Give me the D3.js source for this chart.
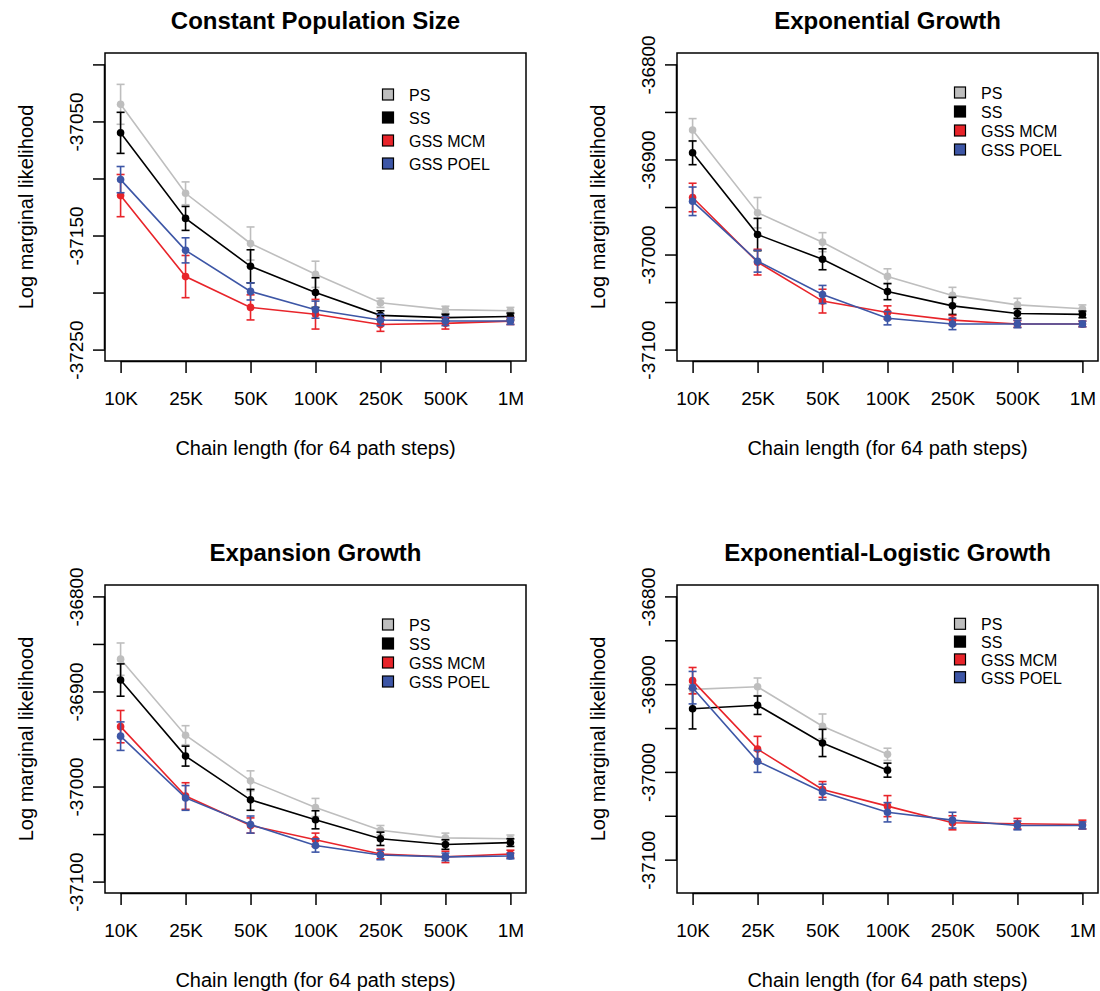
<!DOCTYPE html>
<html><head><meta charset="utf-8">
<script src="https://cdn.jsdelivr.net/npm/d3@7"></script>
<style>
html,body{margin:0;padding:0;background:#fff;}
svg{display:block;font-family:"Liberation Sans",Arial,Helvetica,sans-serif;}
</style></head>
<body><svg id="chart" width="1100" height="991"></svg>
<script>
// ---------- data ----------
const categories = ["10K","25K","50K","100K","250K","500K","1M"];
const seriesNames = ["PS","SS","GSS MCM","GSS POEL"];
const seriesColors = ["#bebebe","#000000","#e8242a","#3d56a6"];
const panelTitles = ["Constant Population Size","Exponential Growth","Expansion Growth","Exponential-Logistic Growth"];
const xAxisTitle = "Chain length (for 64 path steps)";
const yAxisTitle = "Log marginal likelihood";

// Constant population size
const constPS   = [-37035,-37113,-37157,-37184,-37209,-37215,-37216];
const constPSe  = [17.5,10,14.5,11.5,4,3,3];
const constSS   = [-37060,-37135,-37177,-37200,-37220,-37222,-37221];
const constSSe  = [18,10.5,14.5,13,4,3,3];
const constMCM  = [-37115,-37186,-37213,-37219,-37228,-37227,-37225];
const constMCMe = [18.5,18.5,11,13,6,5,3];
const constPOEL = [-37101,-37163,-37199,-37215,-37224,-37225,-37225];
const constPOELe= [11.5,11,7.5,7.5,5,4,3];

// Exponential growth
const expPS   = [-36869,-36956,-36987,-37023,-37043,-37053,-37057];
const expPSe  = [12,16,10,8,8.5,7,4];
const expSS   = [-36893,-36979,-37005,-37039,-37054,-37062,-37063];
const expSSe  = [12.5,17,11,8.5,9,5,3.5];
const expMCM  = [-36940,-37008,-37049,-37061,-37069,-37073,-37073];
const expMCMe = [15,13.5,12.5,7,5,3.5,3];
const expPOEL = [-36944,-37007,-37042,-37067,-37073,-37073,-37073];
const expPOELe= [15,11.5,9.5,7,6,4,3];

// Expansion growth
const expanPS   = [-36866,-36946,-36994,-37022,-37046,-37054,-37055];
const expanPSe  = [17,10,10.5,9.5,5,5,4];
const expanSS   = [-36888,-36968,-37014,-37035,-37055,-37061,-37059];
const expanSSe  = [17,10.5,11,9.5,7,5,4];
const expanMCM  = [-36937,-37010,-37041,-37056,-37071,-37074,-37071];
const expanMCMe = [17,14,8,7,5,6,4];
const expanPOEL = [-36947,-37012,-37040,-37062,-37072,-37074,-37073];
const expanPOELe= [15,13,9,7,5,4,3];

// Exponential-logistic growth (PS and SS only up to 100K)
const logPS   = [-36906,-36903,-36948,-36980,null,null,null];
const logPSe  = [5,10,14,7,null,null,null];
const logSS   = [-36928,-36924,-36967,-36998,null,null,null];
const logSSe  = [23,10.5,15.5,8,null,null,null];
const logMCM  = [-36896,-36974,-37020,-37039,-37058,-37059,-37060];
const logMCMe = [15,14.5,9,12,8,6,5];
const logPOEL = [-36904,-36988,-37023,-37046,-37055,-37061,-37061];
const logPOELe= [18.5,12.5,9,11,9,5,4];

// axis ranges and ticks
const ylimConst = [-37250,-37000];
const ylimExp   = [-37100,-36800];
const ylimExpan = [-37100,-36800];
const ylimLog   = [-37125,-36800];
const yTicksConst  = [-37250,-37200,-37150,-37100,-37050,-37000];
const yLabelsConst = [-37250,-37150,-37050];
const yTicksOther  = [-37100,-37050,-37000,-36950,-36900,-36850,-36800];
const yLabelsOther = [-37100,-37000,-36900,-36800];

const panels = [
  {title:panelTitles[0], ylim:ylimConst, ticks:yTicksConst, labels:yLabelsConst,
   means:[constPS,constSS,constMCM,constPOEL], errs:[constPSe,constSSe,constMCMe,constPOELe], legendGap:23, legendTop:42},
  {title:panelTitles[1], ylim:ylimExp, ticks:yTicksOther, labels:yLabelsOther,
   means:[expPS,expSS,expMCM,expPOEL], errs:[expPSe,expSSe,expMCMe,expPOELe], legendGap:19, legendTop:40},
  {title:panelTitles[2], ylim:ylimExpan, ticks:yTicksOther, labels:yLabelsOther,
   means:[expanPS,expanSS,expanMCM,expanPOEL], errs:[expanPSe,expanSSe,expanMCMe,expanPOELe], legendGap:19, legendTop:40},
  {title:panelTitles[3], ylim:ylimLog, ticks:yTicksOther, labels:yLabelsOther,
   means:[logPS,logSS,logMCM,logPOEL], errs:[logPSe,logSSe,logMCMe,logPOELe], legendGap:17.8, legendTop:39.3}
];

// ---------- layout ----------
const boxW = 421, boxH = 308;
const origins = [[105,53],[677,53],[105,585],[677,585]];
const svg = d3.select("#chart");

panels.forEach((p, pi) => {
  const [ox, oy] = origins[pi];
  const g = svg.append("g").attr("transform", `translate(${ox},${oy})`);
  const ext = (p.ylim[1]-p.ylim[0])*0.04;
  const y = d3.scaleLinear().domain([p.ylim[0]-ext, p.ylim[1]+ext]).range([boxH, 0]);
  const x = d3.scaleLinear().domain([1-0.24, categories.length+0.24]).range([0, boxW]);

  // box
  g.append("rect").attr("x",0).attr("y",0).attr("width",boxW).attr("height",boxH)
    .attr("fill","none").attr("stroke","#000").attr("stroke-width",1.5);

  // y axis
  const yAxis = d3.axisLeft(y).tickValues(p.ticks).tickSize(12).tickPadding(10)
    .tickFormat(d => p.labels.includes(d) ? String(d) : "");
  const ya = g.append("g").call(yAxis);
  ya.select(".domain").attr("d", `M-0.5,${y(p.ticks[0])}V${y(p.ticks[p.ticks.length-1])}`).attr("stroke-width",1.5);
  ya.selectAll(".tick line").attr("stroke-width",1.5);
  ya.selectAll(".tick text")
    .attr("font-size",19).attr("fill","#000").attr("font-family","'Liberation Sans',Arial,sans-serif")
    .attr("x",null).attr("dy",null)
    .attr("transform","translate(-22,0) rotate(-90)")
    .attr("text-anchor","middle").attr("dominant-baseline","auto");

  // x axis
  const xAxis = d3.axisBottom(x).tickValues(d3.range(1, categories.length+1)).tickSize(12).tickPadding(14)
    .tickFormat(i => categories[i-1]);
  const xa = g.append("g").attr("transform",`translate(0,${boxH})`).call(xAxis);
  xa.select(".domain").attr("d", `M${x(1)},0.5H${x(categories.length)}`).attr("stroke-width",1.5);
  xa.selectAll(".tick line").attr("stroke-width",1.5);
  xa.selectAll(".tick text").attr("font-size",19).attr("fill","#000")
    .attr("font-family","'Liberation Sans',Arial,sans-serif")
    .attr("dy",null).attr("y",44);

  // titles
  g.append("text").attr("x",boxW/2).attr("y",-24).attr("text-anchor","middle")
    .attr("font-size",24).attr("font-weight","bold").text(p.title);
  g.append("text").attr("x",boxW/2).attr("y",boxH+94).attr("text-anchor","middle")
    .attr("font-size",20).text(xAxisTitle);
  g.append("text").attr("transform",`translate(-72,${boxH/2}) rotate(-90)`).attr("text-anchor","middle")
    .attr("font-size",20).text(yAxisTitle);

  // series
  p.means.forEach((m, si) => {
    const col = seriesColors[si];
    const pts = m.map((v,i) => ({i:i+1, v, e:p.errs[si][i]})).filter(d => d.v !== null);
    const line = d3.line().x(d => x(d.i)).y(d => y(d.v));
    const sg = g.append("g");
    sg.append("path").datum(pts).attr("d",line).attr("fill","none").attr("stroke",col).attr("stroke-width",1.6);
    const eb = sg.selectAll("g.eb").data(pts).enter().append("g");
    eb.append("line").attr("x1",d=>x(d.i)).attr("x2",d=>x(d.i))
      .attr("y1",d=>y(d.v-d.e)).attr("y2",d=>y(d.v+d.e)).attr("stroke",col).attr("stroke-width",1.6);
    eb.append("line").attr("x1",d=>x(d.i)-4).attr("x2",d=>x(d.i)+4)
      .attr("y1",d=>y(d.v+d.e)).attr("y2",d=>y(d.v+d.e)).attr("stroke",col).attr("stroke-width",1.6);
    eb.append("line").attr("x1",d=>x(d.i)-4).attr("x2",d=>x(d.i)+4)
      .attr("y1",d=>y(d.v-d.e)).attr("y2",d=>y(d.v-d.e)).attr("stroke",col).attr("stroke-width",1.6);
    sg.selectAll("circle").data(pts).enter().append("circle")
      .attr("cx",d=>x(d.i)).attr("cy",d=>y(d.v)).attr("r",3.8).attr("fill",col);
  });

  // legend
  const lg = g.append("g");
  seriesNames.forEach((nm, si) => {
    const cy = p.legendTop + si*p.legendGap;
    lg.append("rect").attr("x",277.5).attr("y",cy-6).attr("width",11).attr("height",11)
      .attr("fill",seriesColors[si]).attr("stroke","#000").attr("stroke-width",1.2);
    lg.append("text").attr("x",304).attr("y",cy+6).attr("font-size",16).text(nm);
  });
});
</script>
</body></html>
